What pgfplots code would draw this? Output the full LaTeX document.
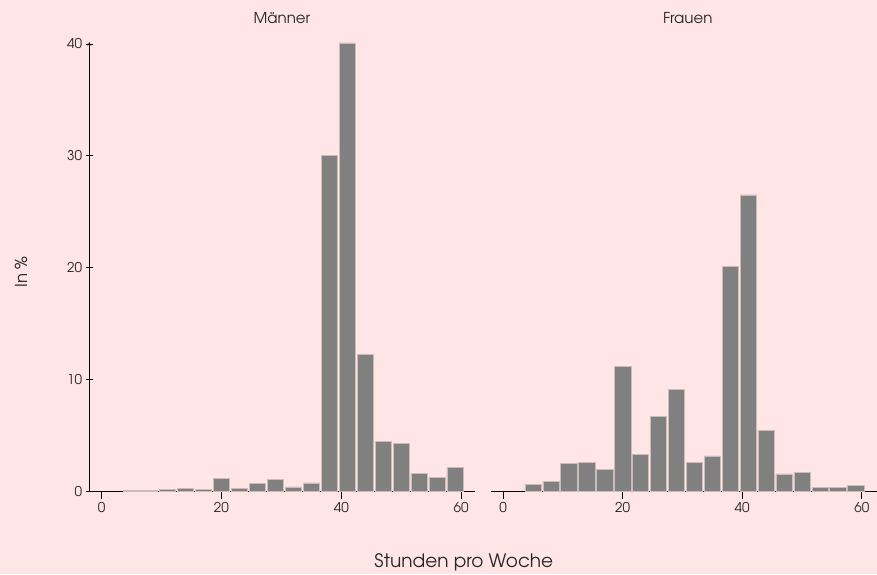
\documentclass[border=0pt]{standalone}
\usepackage{pgfplots}
\pgfplotsset{compat=1.18}
\usepackage{fontspec}
\setmainfont{TeX Gyre Adventor}
\definecolor{bg}{RGB}{255,229,229}
\definecolor{barc}{RGB}{128,128,128}
\definecolor{barl}{RGB}{205,188,188}
\pgfplotstableread{
x y
5 0.1
8 0.1
11 0.2
14 0.25
17 0.2
20 1.13
23 0.25
26 0.69
29 1.04
32 0.39
35 0.75
38 30.0
41 40.1
44 12.27
47 4.47
50 4.32
53 1.61
56 1.22
59 2.12
}\maenner
\pgfplotstableread{
x y
5 0.6
8 0.92
11 2.47
14 2.56
17 1.94
20 11.14
23 3.31
26 6.7
29 9.14
32 2.62
35 3.16
38 20.1
41 26.5
44 5.48
47 1.55
50 1.67
53 0.33
56 0.33
59 0.51
}\frauen
\begin{document}
\begin{tikzpicture}[x=1pt,y=1pt]
\fill[bg] (0,0) rectangle (877,574);
\pgfplotsset{hist/.style={scale only axis, height=449.5pt,
  ymin=0, ymax=40.17,
  axis x line=bottom,
  axis line style={-, line width=0.6pt, black},
  xtick={0,20,40,60},
  tick align=outside, major tick length=7.5pt,
  tick style={black, line width=0.6pt},
  ticklabel style={font=\fontsize{13.5}{15}\selectfont, text=black!85},
  /pgf/number format/assume math mode=true,
  clip=false}}
\begin{axis}[hist, at={(89.3pt,82.5pt)}, anchor=south west, width=385.7pt,
  xmin=-2.07, xmax=62.3,
  axis y line=left, ytick={0,10,20,30,40}]
\addplot[ybar, bar width=2.72, bar shift=0pt, fill=barc, draw=barl, line width=0.5pt] table[x=x,y=y] {\maenner};
\end{axis}
\begin{axis}[hist, at={(490.7pt,82.5pt)}, anchor=south west, width=386.3pt,
  xmin=-2.1, xmax=62.5,
  axis y line=none, ytick=\empty]
\addplot[ybar, bar width=2.72, bar shift=0pt, fill=barc, draw=barl, line width=0.5pt] table[x=x,y=y] {\frauen};
\end{axis}
\node[font=\fontsize{15}{17}\selectfont, text=black!85] at (282,556) {Männer};
\node[font=\fontsize{15}{17}\selectfont, text=black!85] at (688,556) {Frauen};
\node[font=\fontsize{16.5}{18}\selectfont, text=black!85, rotate=90] at (21,302) {In \%};
\node[font=\fontsize{18.5}{20}\selectfont, text=black!85] at (464,11) {Stunden pro Woche};
\end{tikzpicture}
\end{document}
